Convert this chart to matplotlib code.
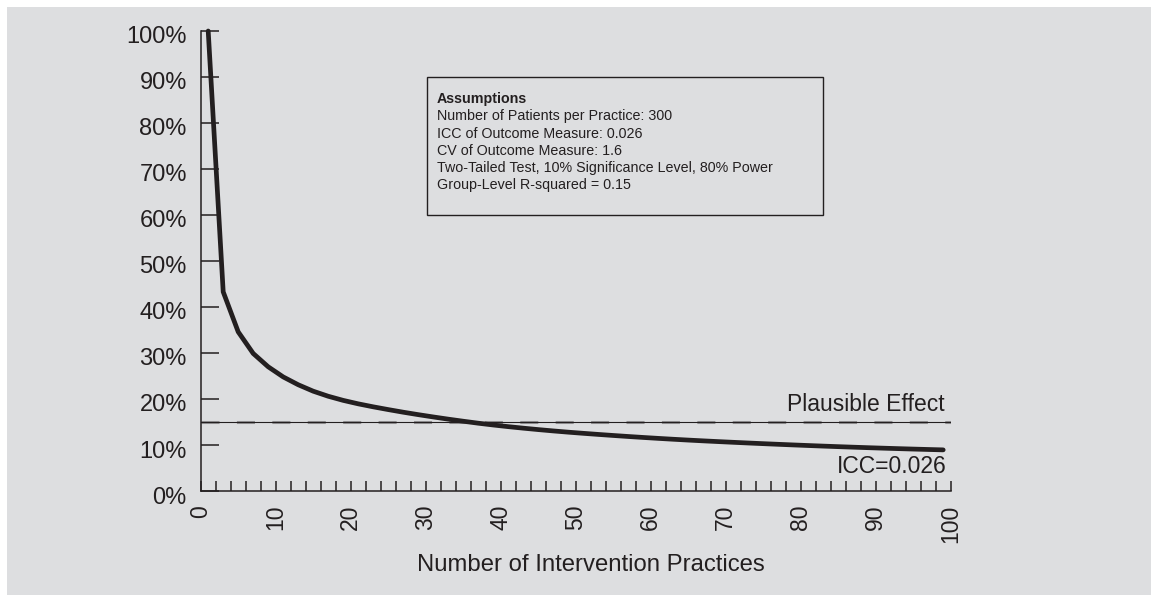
import matplotlib.pyplot as plt
from matplotlib.patches import Rectangle
from matplotlib.ticker import FixedLocator, FuncFormatter
import matplotlib.transforms as mtransforms

plt.rcParams["font.family"] = ["Liberation Sans", "DejaVu Sans"]

# data
practices = list(range(1, 100, 2))
mde_pct = [100.0, 43.3, 34.6, 29.9, 27.0, 24.8, 23.1, 21.7, 20.6, 19.7,
           18.95, 18.3, 17.7, 17.13, 16.6, 16.1, 15.62, 15.17, 14.74, 14.35,
           13.99, 13.66, 13.35, 13.06, 12.79, 12.54, 12.30, 12.07, 11.85, 11.64,
           11.44, 11.25, 11.07, 10.90, 10.74, 10.585, 10.435, 10.29, 10.15, 10.015,
           9.885, 9.76, 9.64, 9.525, 9.415, 9.31, 9.21, 9.115, 9.025, 8.94]
plausible_effect = 15.0
y_ticks = list(range(0, 101, 10))
x_ticks = list(range(0, 101, 2))
x_labels = list(range(0, 101, 10))
assumptions = [
    "Number of Patients per Practice: 300",
    "ICC of Outcome Measure: 0.026",
    "CV of Outcome Measure: 1.6",
    "Two-Tailed Test, 10% Significance Level, 80% Power",
    "Group-Level R-squared = 0.15",
]

ink = "#231f20"
W, H = 1151, 595
fig = plt.figure(figsize=(W / 100, H / 100), dpi=100)
fig.patch.set_facecolor("white")
fig.patches.append(Rectangle((7 / W, 0), 1, 1 - 7 / H, transform=fig.transFigure,
                             facecolor="#dddee0", edgecolor="none", zorder=-10))

ax = fig.add_axes([200.7 / W, 1 - 491 / H, 750 / W, 460 / H])
ax.set_zorder(2)
ax.set_facecolor("none")
ax.set_xlim(0, 100)
ax.set_ylim(0, 100)
for s in ("top", "right"):
    ax.spines[s].set_visible(False)
for s in ("left", "bottom"):
    ax.spines[s].set_color(ink)
    ax.spines[s].set_linewidth(1.1)

# plausible effect line: gray dashes over a thin solid line
ax.plot([0, 100], [plausible_effect] * 2, color="#909092", lw=2.2,
        dashes=(13 / 2.2, 12.5 / 2.2), zorder=2)
ax.plot([0, 100], [plausible_effect] * 2, color=ink, lw=0.8, zorder=3)

ax.plot(practices, mde_pct, color=ink, lw=3.4, solid_capstyle="round",
        solid_joinstyle="miter", clip_on=False, zorder=4)

ax.yaxis.set_major_locator(FixedLocator(y_ticks))
ax.yaxis.set_major_formatter(FuncFormatter(lambda v, p: f"{v:.0f}%"))
ax.xaxis.set_major_locator(FixedLocator(x_ticks))
ax.xaxis.set_major_formatter(
    FuncFormatter(lambda v, p: f"{v:.0f}" if round(v) in x_labels else ""))
ax.tick_params(axis="y", direction="in", length=13, width=1.1, color=ink,
               labelsize=17, labelcolor=ink, pad=10)
ax.tick_params(axis="x", direction="in", length=7.2, width=1.1, color=ink,
               labelsize=16.5, labelcolor=ink, pad=10, labelrotation=90)
off = mtransforms.ScaledTranslation(0, -4 / 100, fig.dpi_scale_trans)
for lab in ax.get_yticklabels():
    lab.set_transform(lab.get_transform() + off)

ax.text(99.2, 16.3, "Plausible Effect", ha="right", va="bottom",
        fontsize=16.5, color=ink)
ax.text(99.5, 5.4, "ICC=0.026", ha="right", va="center",
        fontsize=16.5, color=ink)

fig.text(591 / W, 1 - 565 / H, "Number of Intervention Practices",
         ha="center", va="center", fontsize=17.2, color=ink)

# assumptions box
fig.patches.append(Rectangle((427 / W, 1 - 215 / H), 396 / W, 138.5 / H,
                             transform=fig.transFigure, facecolor="none",
                             edgecolor=ink, lw=1.0, zorder=5))
fig.text(437 / W, 1 - 99 / H, "Assumptions", ha="left", va="center",
         fontsize=10.3, fontweight="bold", color=ink)
for i, line in enumerate(assumptions):
    fig.text(437 / W, 1 - (99 + 17.3 * (i + 1)) / H, line, ha="left",
             va="center", fontsize=10.3, color=ink)

fig.savefig("out.png", dpi=100)
